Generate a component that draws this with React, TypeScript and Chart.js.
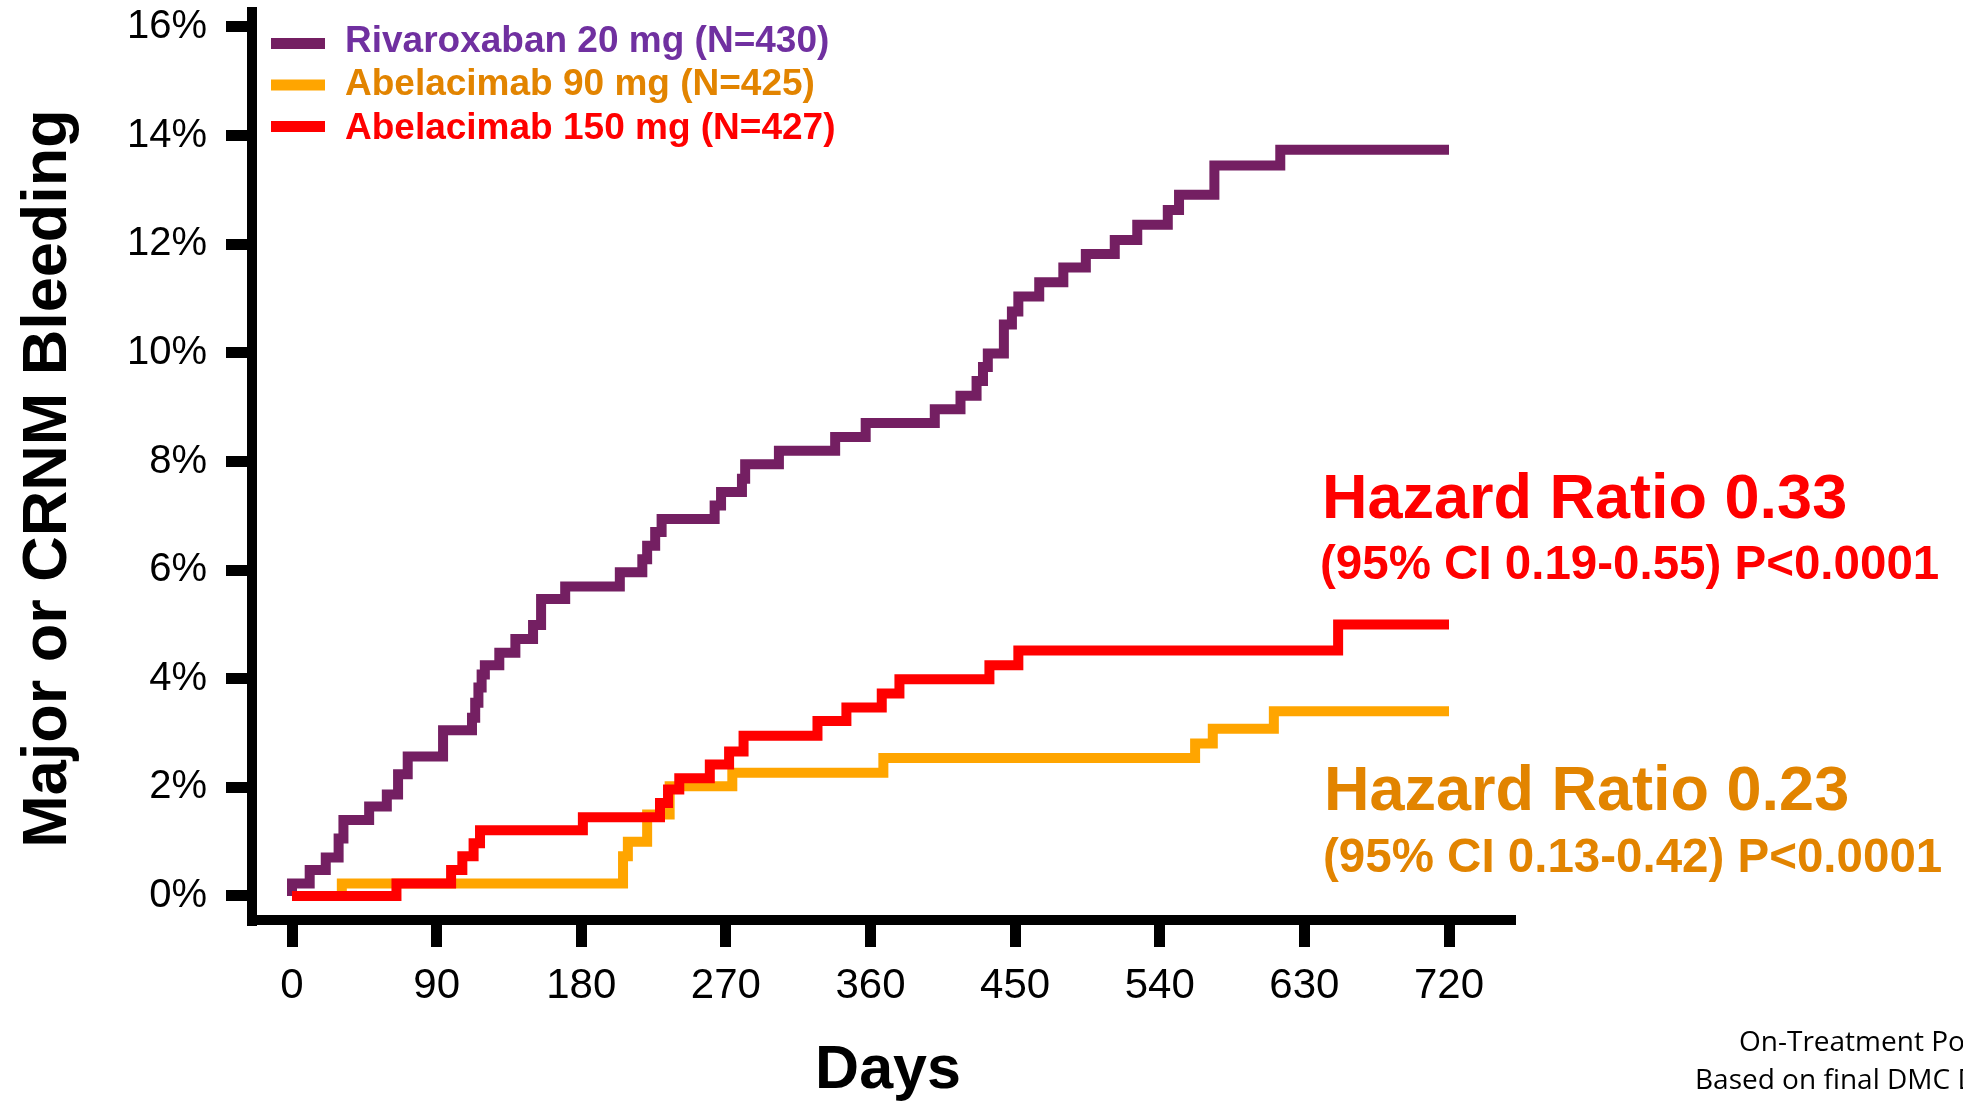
import React, { useEffect, useRef } from 'react';
import { Chart, registerables } from 'chart.js';

Chart.register(...registerables);

// ---------- data ----------
const dayTicks = [0, 90, 180, 270, 360, 450, 540, 630, 720];
const dayTickLabels = ['0', '90', '180', '270', '360', '450', '540', '630', '720'];
const pctTicks = [0, 2, 4, 6, 8, 10, 12, 14, 16];
const pctTickLabels = ['0%', '2%', '4%', '6%', '8%', '10%', '12%', '14%', '16%'];

const seriesLabels = [
  'Rivaroxaban 20 mg (N=430)',
  'Abelacimab 90 mg (N=425)',
  'Abelacimab 150 mg (N=427)',
];

// Rivaroxaban 20 mg: cumulative incidence (%) steps at day
const rivaDays = [0, 0, 11, 21, 29, 32, 48, 59, 66, 72, 94, 112, 114, 116, 118, 120, 129, 139, 150, 155, 170, 204, 218, 221, 226, 230, 263, 267, 280, 282, 303, 338, 357, 400, 416, 426, 430, 433, 443, 448, 452, 465, 480, 494, 512, 526, 545, 552, 574, 615, 720];
const rivaPct = [0, 0.23, 0.48, 0.71, 1.06, 1.40, 1.65, 1.87, 2.24, 2.57, 3.05, 3.28, 3.56, 3.84, 4.08, 4.25, 4.48, 4.73, 4.99, 5.47, 5.70, 5.96, 6.20, 6.45, 6.70, 6.94, 7.19, 7.44, 7.68, 7.95, 8.20, 8.45, 8.71, 8.96, 9.21, 9.48, 9.74, 9.99, 10.52, 10.76, 11.04, 11.30, 11.57, 11.82, 12.08, 12.36, 12.63, 12.91, 13.45, 13.74, 13.74];

// Abelacimab 90 mg
const abe90Days = [0, 31, 206, 209, 221, 235, 274, 368, 562, 573, 611, 720];
const abe90Pct = [0, 0.23, 0.73, 1.0, 1.5, 2.02, 2.27, 2.54, 2.81, 3.08, 3.40, 3.40];

// Abelacimab 150 mg
const abe150Days = [0, 65, 99, 106, 113, 117, 181, 229, 234, 241, 260, 272, 281, 327, 345, 367, 378, 434, 452, 651, 720];
const abe150Pct = [0, 0.23, 0.48, 0.73, 0.97, 1.21, 1.45, 1.71, 1.96, 2.17, 2.42, 2.66, 2.95, 3.22, 3.47, 3.73, 3.99, 4.25, 4.52, 5.0, 5.0];

const hazard150 = ['Hazard Ratio 0.33', '(95% CI 0.19-0.55) P<0.0001'];
const hazard90 = ['Hazard Ratio 0.23', '(95% CI 0.13-0.42) P<0.0001'];
const yTitle = 'Major or CRNM Bleeding';
const xTitle = 'Days';
const footnote = ['On-Treatment Population', 'Based on final DMC Data'];

// ---------- style ----------
const W = 1963;
const H = 1101;
const PURPLE_LINE = '#741F62';
const ORANGE_LINE = '#FFA500';
const RED_LINE = '#FF0000';
const PURPLE_TEXT = '#7030A0';
const ORANGE_TEXT = '#E28400';
const RED_TEXT = '#FF0000';
const SANS = '"Liberation Sans", Arial, sans-serif';

const toPts = (xs: number[], ys: number[]) => xs.map((x, i) => ({ x, y: ys[i] }));

const annotPlugin = {
  id: 'annot',
  afterDraw(chart: any) {
    const ctx: CanvasRenderingContext2D = chart.ctx;
    ctx.save();
    // legend
    const swatchY = [43.5, 85, 126.5];
    const textY = [51.5, 95, 139];
    const swCol = [PURPLE_LINE, ORANGE_LINE, RED_LINE];
    const txCol = [PURPLE_TEXT, ORANGE_TEXT, RED_TEXT];
    ctx.font = `bold 37px ${SANS}`;
    ctx.textAlign = 'left';
    ctx.textBaseline = 'alphabetic';
    seriesLabels.forEach((lab, i) => {
      ctx.fillStyle = swCol[i];
      ctx.fillRect(271, swatchY[i] - 5.5, 54, 11);
      ctx.fillStyle = txCol[i];
      ctx.fillText(lab, 345, textY[i]);
    });
    // hazard ratios
    ctx.fillStyle = RED_TEXT;
    ctx.font = `bold 63px ${SANS}`;
    ctx.fillText(hazard150[0], 1322, 518);
    ctx.font = `bold 47.5px ${SANS}`;
    ctx.fillText(hazard150[1], 1320, 579);
    ctx.fillStyle = ORANGE_TEXT;
    ctx.font = `bold 63px ${SANS}`;
    ctx.fillText(hazard90[0], 1324, 810);
    ctx.font = `bold 47.5px ${SANS}`;
    ctx.fillText(hazard90[1], 1323, 872);
    // footnote
    ctx.fillStyle = '#000';
    ctx.font = `28px "Open Sans", sans-serif`;
    ctx.fillText(footnote[0], 1739, 1051);
    ctx.fillText(footnote[1], 1695, 1089);
    // x title
    ctx.font = `bold 61px ${SANS}`;
    ctx.textAlign = 'center';
    ctx.fillText(xTitle, 888, 1088);
    // y title
    ctx.translate(66, 478.5);
    ctx.rotate(-Math.PI / 2);
    ctx.font = `bold 63px ${SANS}`;
    ctx.fillText(yTitle, 0, 0);
    ctx.restore();
  },
};

export default function App() {
  const ref = useRef<HTMLCanvasElement>(null);

  useEffect(() => {
    const canvas = ref.current;
    if (!canvas) return;
    const chart = new Chart(canvas, {
      type: 'line',
      data: {
        datasets: [
          {
            label: seriesLabels[0],
            data: toPts(rivaDays, rivaPct),
            borderColor: PURPLE_LINE,
            backgroundColor: PURPLE_LINE,
            borderWidth: 10,
            stepped: true,
            pointRadius: 0,
            fill: false,
            borderJoinStyle: 'miter',
            borderCapStyle: 'butt',
            order: 2,
          },
          {
            label: seriesLabels[1],
            data: toPts(abe90Days, abe90Pct),
            borderColor: ORANGE_LINE,
            backgroundColor: ORANGE_LINE,
            borderWidth: 10,
            stepped: true,
            pointRadius: 0,
            fill: false,
            borderJoinStyle: 'miter',
            borderCapStyle: 'butt',
            order: 1,
          },
          {
            label: seriesLabels[2],
            data: toPts(abe150Days, abe150Pct),
            borderColor: RED_LINE,
            backgroundColor: RED_LINE,
            borderWidth: 10,
            stepped: true,
            pointRadius: 0,
            fill: false,
            borderJoinStyle: 'miter',
            borderCapStyle: 'butt',
            order: 0,
          },
        ],
      },
      options: {
        responsive: false,
        animation: false,
        devicePixelRatio: 1,
        layout: { padding: { left: 0, top: 12, right: 453, bottom: 0 } },
        plugins: {
          legend: { display: false },
          tooltip: { enabled: false },
          title: { display: false },
        },
        scales: {
          x: {
            type: 'linear',
            bounds: 'data',
            min: -24.9,
            max: 757.96,
            afterBuildTicks: (s: any) => {
              s.ticks = dayTicks.map((v) => ({ value: v }));
            },
            afterFit: (s: any) => {
              s.height = 181;
              s.paddingLeft = 0;
              s.paddingRight = 0;
            },
            ticks: {
              autoSkip: false,
              maxRotation: 0,
              padding: 14,
              color: '#000',
              font: { family: SANS, size: 42 },
              callback: (_v: any, i: number) => dayTickLabels[i],
            },
            grid: {
              display: true,
              drawOnChartArea: false,
              drawTicks: true,
              tickLength: 27,
              lineWidth: 11,
              tickWidth: 11,
              color: '#000',
              tickColor: '#000',
            },
            border: { display: true, width: 10, color: '#000' },
          },
          y: {
            type: 'linear',
            bounds: 'data',
            min: -0.442,
            max: 16.276,
            afterBuildTicks: (s: any) => {
              s.ticks = pctTicks.map((v) => ({ value: v }));
            },
            afterFit: (s: any) => {
              s.width = 252;
              s.paddingTop = 0;
              s.paddingBottom = 0;
            },
            ticks: {
              autoSkip: false,
              padding: 19,
              color: '#000',
              font: { family: SANS, size: 40 },
              callback: (_v: any, i: number) => pctTickLabels[i],
            },
            grid: {
              display: true,
              drawOnChartArea: false,
              drawTicks: true,
              tickLength: 26,
              lineWidth: 11,
              tickWidth: 11,
              color: '#000',
              tickColor: '#000',
            },
            border: { display: true, width: 10, color: '#000' },
          },
        },
      } as any,
      plugins: [annotPlugin],
    });
    return () => chart.destroy();
  }, []);

  return (
    <div style={{ position: 'fixed', left: 0, top: 0, width: W, height: H, background: '#fff', overflow: 'hidden' }}>
      <canvas ref={ref} width={W} height={H} style={{ display: 'block', width: W, height: H }} />
    </div>
  );
}
